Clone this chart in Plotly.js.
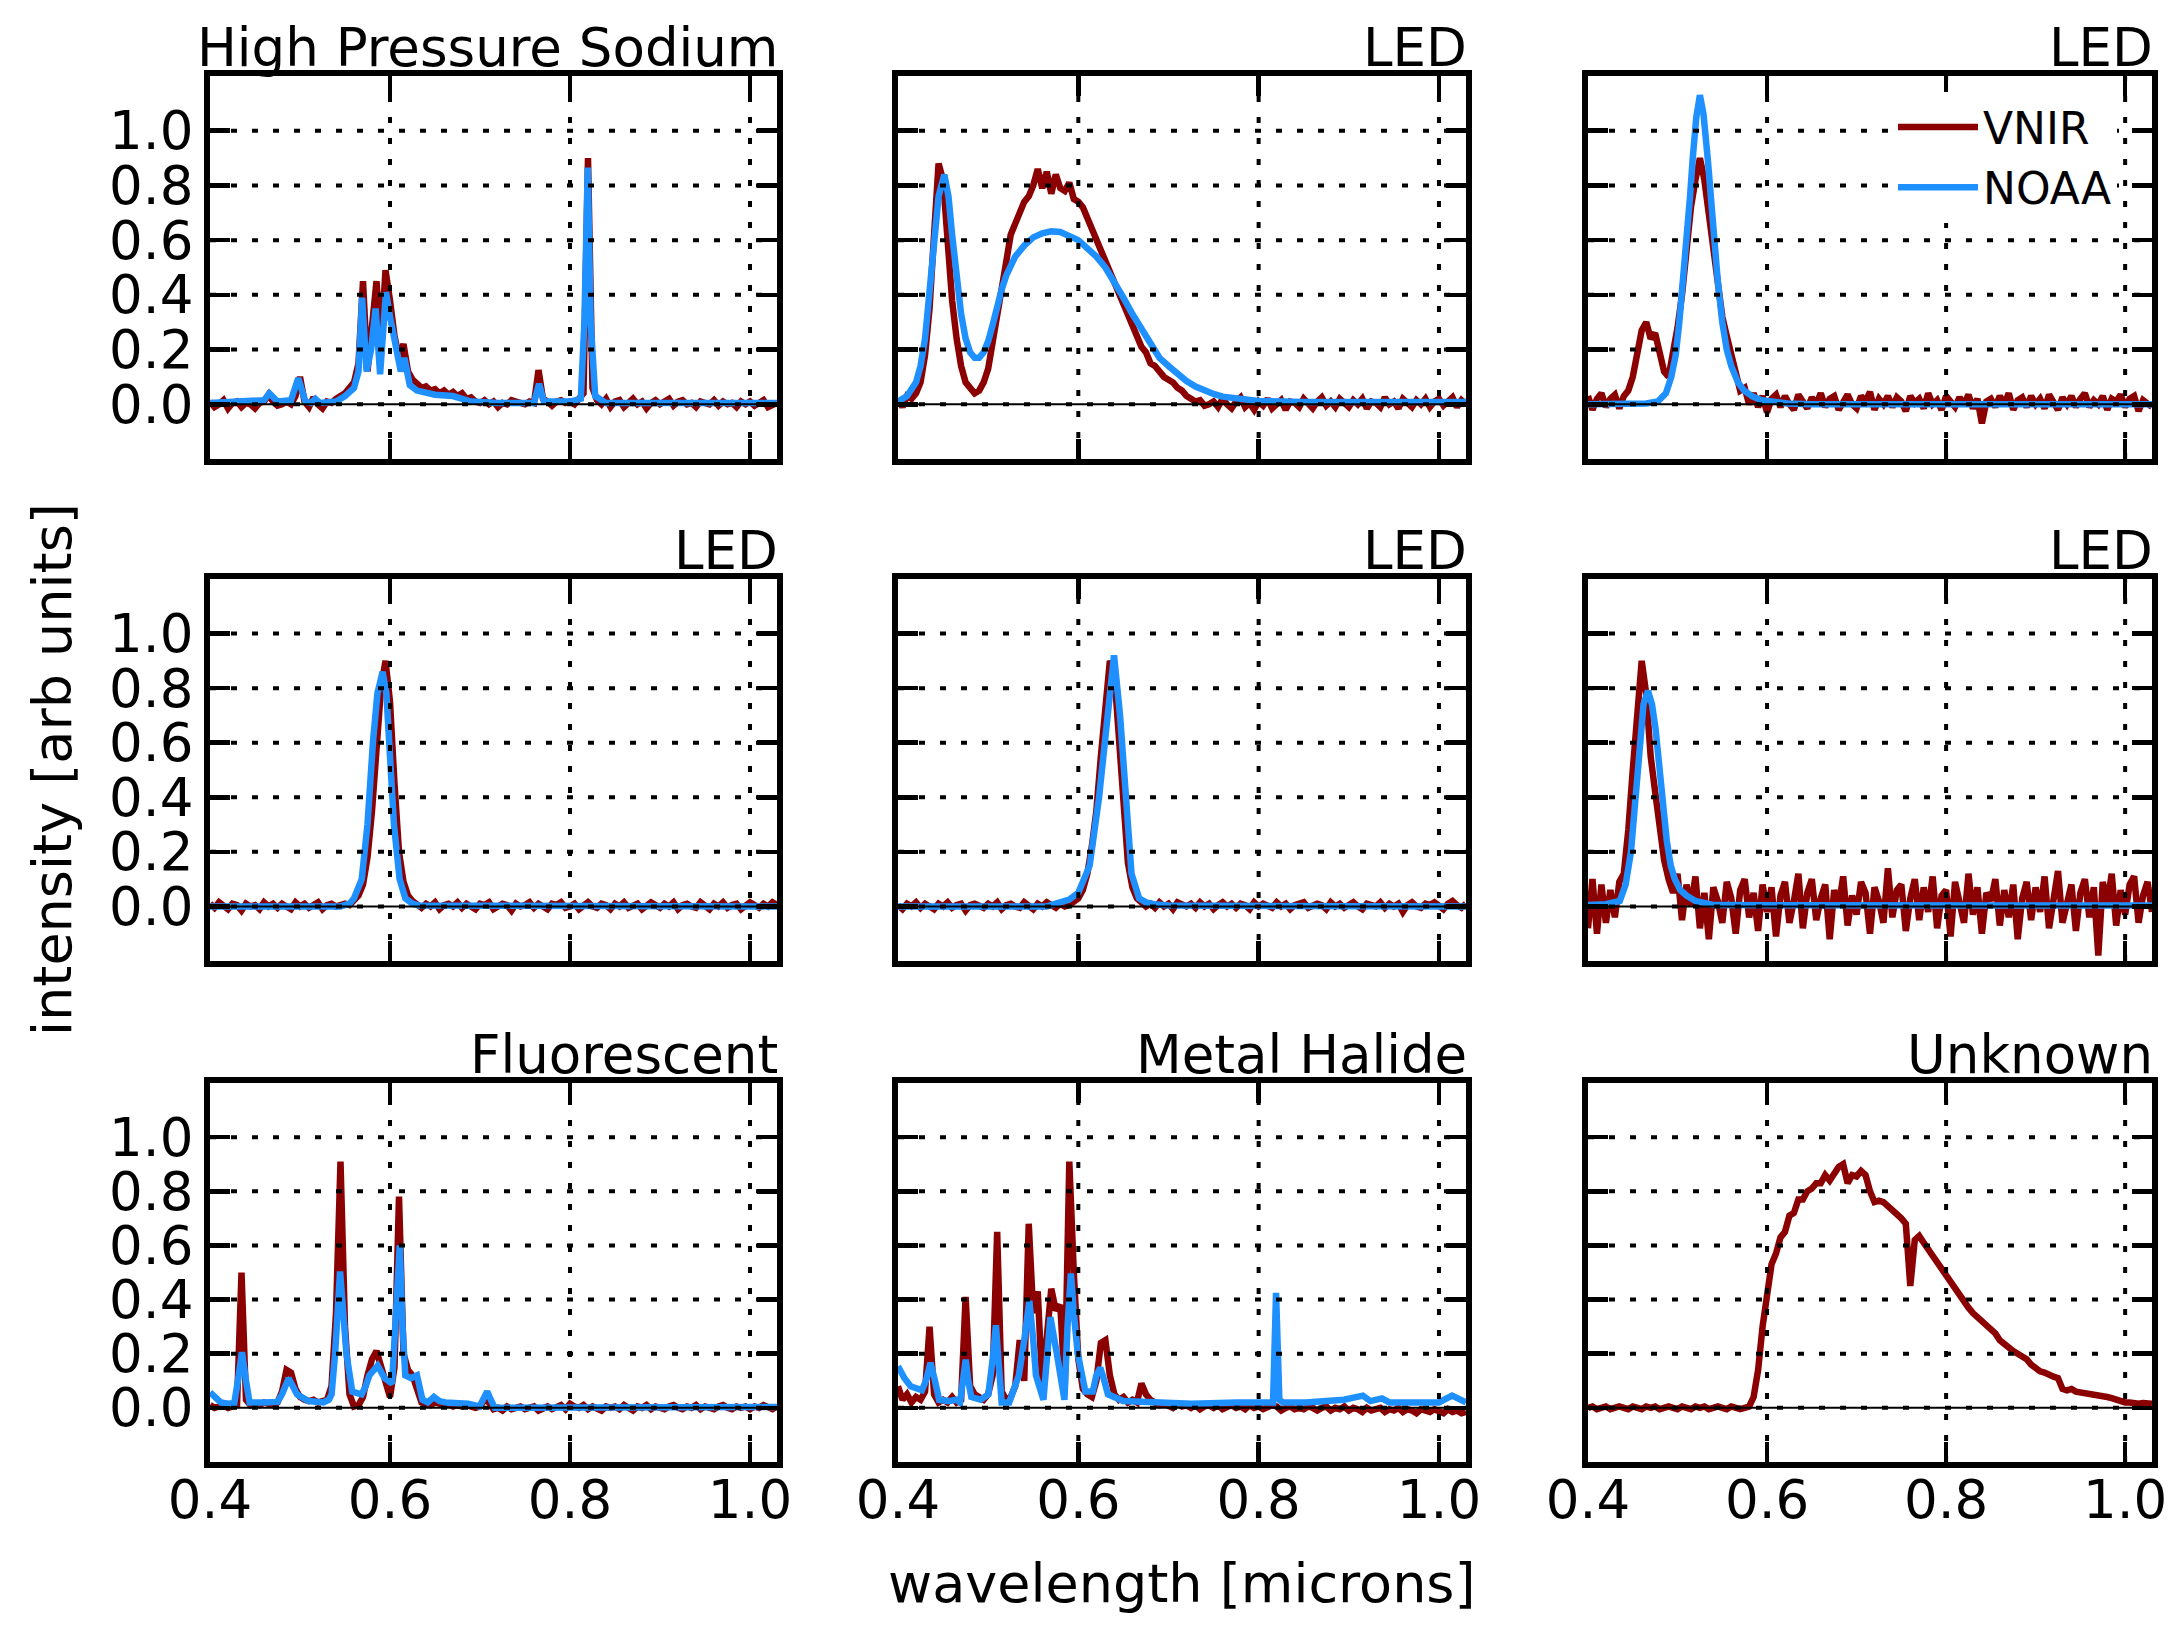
<!DOCTYPE html>
<html><head><meta charset="utf-8">
<script src="https://cdn.plot.ly/plotly-3.0.1.min.js"></script>
<style>html,body{margin:0;padding:0;background:#fff}#chart{width:2182px;height:1637px}</style>
</head><body><div id="chart"></div>
<script>
// ---------------- DATA ----------------
const xTicks = [0.4, 0.6, 0.8, 1.0];
const yTicks = [0.0, 0.2, 0.4, 0.6, 0.8, 1.0];
const xRange = [0.4, 1.03];
const yRange = [-0.2, 1.2];
const titles = ['High Pressure Sodium','LED','LED','LED','LED','LED','Fluorescent','Metal Halide','Unknown'];

// VNIR wavelength grid (microns)
const wl = [
0.400,0.405,0.410,0.415,0.420,0.425,0.430,0.435,0.440,0.445,
0.450,0.455,0.460,0.465,0.470,0.475,0.480,0.485,0.490,0.495,
0.500,0.505,0.510,0.515,0.520,0.525,0.530,0.535,0.540,0.545,
0.550,0.555,0.560,0.565,0.570,0.575,0.580,0.585,0.590,0.595,
0.600,0.605,0.610,0.615,0.620,0.625,0.630,0.635,0.640,0.645,
0.650,0.655,0.660,0.665,0.670,0.675,0.680,0.685,0.690,0.695,
0.700,0.705,0.710,0.715,0.720,0.725,0.730,0.735,0.740,0.745,
0.750,0.755,0.760,0.765,0.770,0.775,0.780,0.785,0.790,0.795,
0.800,0.805,0.810,0.815,0.820,0.825,0.830,0.835,0.840,0.845,
0.850,0.855,0.860,0.865,0.870,0.875,0.880,0.885,0.890,0.895,
0.900,0.905,0.910,0.915,0.920,0.925,0.930,0.935,0.940,0.945,
0.950,0.955,0.960,0.965,0.970,0.975,0.980,0.985,0.990,0.995,
1.000,1.005,1.010,1.015,1.020,1.025,1.030];

// High Pressure Sodium
const hpsVnir = [
0.01,-0.01,0.00,0.015,-0.015,0.005,0.01,-0.01,0.005,0.00,
-0.015,0.005,0.01,0.035,0.01,-0.005,0.0,0.01,0.0,0.03,
0.10,0.01,-0.01,0.025,0.0,-0.015,0.01,0.005,0.02,0.03,
0.04,0.06,0.08,0.15,0.45,0.12,0.30,0.45,0.22,0.49,
0.38,0.25,0.17,0.22,0.12,0.09,0.075,0.06,0.065,0.05,
0.055,0.04,0.05,0.035,0.045,0.03,0.04,0.02,0.025,0.01,
0.005,0.015,0.0,0.01,-0.01,0.005,0.0,0.015,0.01,0.005,
0.0,0.01,0.005,0.125,0.02,0.01,-0.005,0.01,0.015,0.005,
0.01,0.0,0.02,0.04,0.90,0.06,0.015,0.0,0.02,-0.01,
0.01,0.015,-0.01,0.005,0.02,0.0,0.01,-0.015,0.005,0.015,
0.0,0.01,0.02,-0.005,0.01,0.015,0.0,0.005,-0.01,0.01,
0.005,0.0,0.015,-0.005,0.01,0.0,0.005,-0.01,0.01,0.0,
0.01,-0.005,0.005,0.015,-0.01,0.0,0.005];
const hpsNoaaX = [0.400,0.440,0.460,0.466,0.475,0.490,0.498,0.506,0.512,0.517,0.522,0.540,0.550,0.560,0.565,0.569,0.574,0.579,0.584,0.589,0.5955,0.600,0.607,0.612,0.616,0.622,0.630,0.650,0.670,0.690,0.720,0.760,0.7656,0.771,0.800,0.812,0.816,0.8197,0.823,0.828,0.840,1.030];
const hpsNoaaY = [0.005,0.01,0.015,0.04,0.01,0.015,0.095,0.01,0.005,0.02,0.005,0.01,0.03,0.06,0.12,0.39,0.12,0.20,0.35,0.11,0.41,0.32,0.20,0.12,0.17,0.07,0.05,0.035,0.03,0.01,0.005,0.005,0.075,0.01,0.01,0.02,0.30,0.865,0.30,0.03,0.005,0.005];

// LED (broad white)
const ledAVnir = [
0.02,-0.01,0.03,0.02,0.04,0.08,0.18,0.35,0.62,0.88,
0.82,0.58,0.38,0.24,0.14,0.08,0.06,0.04,0.05,0.08,
0.13,0.22,0.32,0.42,0.52,0.62,0.66,0.70,0.74,0.76,
0.80,0.86,0.79,0.85,0.77,0.84,0.79,0.78,0.81,0.75,
0.74,0.72,0.68,0.64,0.60,0.56,0.52,0.48,0.44,0.40,
0.37,0.33,0.28,0.24,0.21,0.19,0.15,0.14,0.12,0.10,
0.09,0.08,0.06,0.05,0.03,0.02,0.01,0.015,-0.005,0.0,
0.01,-0.01,0.02,0.0,-0.015,0.01,0.025,-0.01,0.005,-0.02,
0.01,-0.005,0.02,-0.015,0.0,0.015,-0.02,0.01,0.005,-0.01,
0.02,0.0,-0.015,0.01,0.025,-0.005,0.01,-0.01,0.02,0.005,
-0.01,0.015,0.0,0.02,-0.015,0.01,0.005,-0.01,0.025,0.0,
0.01,-0.015,0.02,0.005,-0.01,0.015,0.0,0.02,-0.01,0.01,
0.02,-0.005,0.01,0.025,-0.01,0.015,0.0];
const ledANoaaX = [0.400,0.410,0.420,0.425,0.430,0.435,0.440,0.445,0.4514,0.456,0.460,0.465,0.470,0.475,0.480,0.485,0.490,0.495,0.500,0.505,0.510,0.515,0.520,0.530,0.540,0.550,0.560,0.570,0.580,0.590,0.600,0.610,0.620,0.630,0.640,0.650,0.660,0.670,0.680,0.690,0.700,0.710,0.720,0.730,0.740,0.750,0.760,0.780,0.800,0.850,1.030];
const ledANoaaY = [0.01,0.03,0.08,0.14,0.24,0.40,0.60,0.76,0.84,0.76,0.62,0.45,0.33,0.24,0.19,0.17,0.17,0.19,0.23,0.29,0.36,0.42,0.47,0.54,0.58,0.61,0.625,0.632,0.63,0.615,0.60,0.57,0.54,0.50,0.45,0.39,0.33,0.28,0.22,0.17,0.14,0.11,0.085,0.065,0.05,0.038,0.028,0.018,0.012,0.008,0.008];

// LED (green)
const ledBVnir = [
0.03,-0.02,0.02,0.04,-0.01,0.02,0.035,-0.015,0.03,0.05,
0.10,0.18,0.27,0.30,0.24,0.26,0.20,0.12,0.10,0.18,
0.28,0.40,0.58,0.72,0.82,0.90,0.82,0.70,0.58,0.42,
0.32,0.25,0.18,0.11,0.05,0.06,0.0,0.04,-0.01,0.03,
-0.03,0.02,0.035,-0.01,0.03,0.0,-0.02,0.035,0.01,-0.015,
0.025,0.0,0.04,-0.01,0.02,0.03,-0.02,0.01,0.035,0.0,
-0.015,0.03,0.01,0.045,-0.02,0.02,0.0,0.03,-0.01,0.025,
0.01,-0.025,0.03,0.005,0.02,-0.015,0.04,0.0,0.015,-0.02,
0.03,0.01,-0.01,0.025,0.0,0.035,-0.015,0.02,-0.07,0.01,
0.02,-0.01,0.03,0.0,0.04,-0.02,0.015,0.025,-0.01,0.03,
0.0,0.02,-0.015,0.035,0.01,-0.02,0.025,0.0,0.03,-0.01,
0.02,0.04,-0.01,0.015,0.0,0.03,-0.02,0.02,0.01,0.035,
-0.01,0.02,0.03,-0.025,0.015,0.0,-0.01];
const ledBNoaaX = [0.400,0.450,0.465,0.478,0.487,0.493,0.498,0.502,0.506,0.510,0.514,0.517,0.521,0.525,0.529,0.5337,0.537,0.541,0.545,0.550,0.555,0.560,0.5675,0.5745,0.584,0.594,0.610,0.623,0.650,1.030];
const ledBNoaaY = [0.0,0.0,0.003,0.01,0.04,0.10,0.18,0.30,0.44,0.60,0.76,0.90,1.05,1.13,1.06,0.90,0.75,0.60,0.45,0.30,0.20,0.14,0.08,0.05,0.028,0.015,0.006,0.003,0.0,0.0];

// LED (amber)
const ledCVnir = [
0.01,-0.005,0.015,0.0,-0.01,0.01,0.005,-0.015,0.01,0.0,
0.005,-0.01,0.015,0.0,0.01,-0.005,0.01,0.0,-0.01,0.015,
0.0,0.01,-0.005,0.005,0.015,-0.01,0.005,0.01,0.0,0.005,
0.01,0.005,0.02,0.04,0.08,0.18,0.35,0.58,0.80,0.90,
0.75,0.45,0.20,0.09,0.04,0.02,0.01,-0.005,0.01,0.0,
0.015,-0.01,0.005,0.01,0.0,0.015,-0.005,0.01,0.0,-0.01,
0.01,0.005,0.015,-0.01,0.0,0.01,0.005,-0.015,0.01,0.0,
0.005,0.015,-0.005,0.01,0.0,-0.01,0.01,0.005,0.015,-0.005,
0.0,0.01,-0.01,0.005,0.015,0.0,-0.005,0.01,0.005,-0.01,
0.01,0.0,0.015,-0.005,0.005,0.01,-0.01,0.0,0.015,0.005,
-0.005,0.01,0.0,0.015,-0.01,0.005,0.01,0.0,-0.005,0.015,
0.005,-0.01,0.01,0.0,0.015,-0.005,0.005,0.01,-0.01,0.0,
0.015,0.005,-0.005,0.01,0.0,0.015,0.005];
const ledCNoaaX = [0.400,0.545,0.555,0.560,0.5686,0.575,0.581,0.586,0.5918,0.596,0.600,0.6044,0.6107,0.617,0.625,0.632,1.030];
const ledCNoaaY = [0.0,0.0,0.01,0.03,0.10,0.30,0.60,0.78,0.86,0.78,0.55,0.30,0.10,0.03,0.01,0.003,0.0];

// LED (red)
const ledDVnir = [
0.005,-0.01,0.01,0.0,0.015,-0.005,0.01,0.0,-0.01,0.01,
0.0,0.015,-0.005,0.005,0.01,-0.015,0.005,0.01,0.0,-0.005,
0.01,0.0,0.015,-0.01,0.005,0.01,0.0,-0.005,0.015,0.005,
-0.01,0.01,0.0,0.015,0.005,-0.005,0.01,0.0,0.005,0.015,
0.03,0.06,0.12,0.22,0.35,0.55,0.75,0.90,0.85,0.62,
0.38,0.16,0.07,0.03,0.015,0.0,0.01,-0.005,0.015,0.0,
0.01,-0.01,0.015,0.005,0.0,0.01,-0.005,0.015,0.0,0.01,
-0.01,0.005,0.015,0.0,0.01,-0.005,0.01,0.005,-0.01,0.015,
0.0,0.01,0.005,-0.005,0.015,0.0,0.01,-0.01,0.005,0.01,
0.015,-0.005,0.0,0.01,0.005,-0.01,0.015,0.0,0.01,-0.005,
0.005,0.015,0.0,-0.01,0.01,0.005,0.0,0.015,-0.005,0.01,
0.0,0.01,-0.02,0.005,0.015,0.0,-0.005,0.01,0.005,0.015,
0.0,-0.01,0.01,0.02,0.005,-0.005,0.01];
const ledDNoaaX = [0.400,0.565,0.575,0.590,0.600,0.6126,0.623,0.6337,0.6396,0.6463,0.6526,0.659,0.6674,0.675,0.684,0.700,1.030];
const ledDNoaaY = [0.0,0.0,0.01,0.025,0.05,0.15,0.40,0.75,0.92,0.70,0.40,0.12,0.03,0.015,0.008,0.003,0.0];

// LED (blue)
const ledEVnir = [
-0.08,0.10,-0.10,0.08,-0.06,0.06,-0.04,0.09,0.12,0.28,
0.50,0.72,0.90,0.78,0.55,0.42,0.30,0.17,0.10,0.05,
0.12,-0.05,0.08,0.0,0.11,-0.08,0.05,-0.12,0.07,0.02,
-0.06,0.09,0.03,-0.10,0.06,0.10,-0.04,0.05,-0.09,0.08,
-0.02,0.07,-0.11,0.04,0.09,-0.06,0.02,0.12,-0.08,0.05,
0.10,-0.05,0.03,0.08,-0.12,0.06,0.0,0.11,-0.07,0.04,
-0.03,0.09,0.05,-0.10,0.07,0.02,-0.06,0.14,-0.04,0.06,
0.08,-0.09,0.03,0.10,-0.05,0.07,-0.02,0.11,-0.08,0.04,
0.06,-0.11,0.09,0.01,-0.06,0.12,-0.03,0.07,-0.10,0.05,
0.02,0.10,-0.07,0.06,-0.04,0.08,-0.12,0.03,0.09,-0.05,
0.07,-0.02,0.11,-0.08,0.04,0.13,-0.06,0.02,0.08,-0.09,
0.05,0.10,-0.04,0.07,-0.18,0.09,0.01,0.12,-0.07,0.06,
-0.03,0.08,0.11,-0.06,0.04,0.09,-0.02];
const ledENoaaX = [0.400,0.420,0.4355,0.442,0.448,0.4565,0.462,0.467,0.4715,0.4755,0.480,0.484,0.488,0.4924,0.497,0.503,0.510,0.520,0.530,0.541,1.030];
const ledENoaaY = [0.005,0.008,0.02,0.08,0.20,0.55,0.74,0.79,0.74,0.65,0.50,0.35,0.24,0.15,0.10,0.06,0.04,0.02,0.01,0.005,0.003];

// Fluorescent
const fluoVnir = [
0.01,0.0,0.005,0.01,0.0,0.005,0.01,0.50,0.03,0.01,
0.015,0.01,0.02,0.015,0.01,0.02,0.06,0.14,0.13,0.07,
0.04,0.03,0.025,0.03,0.02,0.025,0.03,0.08,0.35,0.91,
0.30,0.05,0.005,0.01,0.04,0.12,0.18,0.21,0.15,0.08,
0.04,0.15,0.78,0.20,0.14,0.12,0.06,0.02,0.015,0.01,
0.02,0.015,0.01,0.015,0.005,0.01,0.005,0.01,0.005,0.0,
0.005,0.03,0.02,-0.005,0.0,-0.01,0.005,-0.005,0.0,0.005,
-0.005,0.0,0.005,-0.01,0.0,0.005,-0.005,0.0,0.01,-0.005,
0.015,0.005,0.0,0.01,-0.005,0.005,0.0,-0.01,0.005,0.0,
0.005,-0.005,0.01,0.0,-0.01,0.005,0.0,0.01,-0.005,0.005,
0.0,-0.005,0.005,0.01,0.0,-0.005,0.005,0.0,0.01,-0.005,
0.005,0.0,-0.005,0.005,0.01,0.0,-0.005,0.005,0.0,0.005,
-0.005,0.005,0.0,0.01,0.0,-0.005,0.005];
const fluoNoaaX = [0.400,0.406,0.412,0.420,0.427,0.431,0.4355,0.440,0.444,0.460,0.475,0.480,0.4874,0.4967,0.5094,0.526,0.532,0.5351,0.539,0.5445,0.548,0.5516,0.558,0.5685,0.573,0.577,0.5863,0.5939,0.6023,0.606,0.6108,0.614,0.617,0.6234,0.630,0.636,0.642,0.6488,0.655,0.6615,0.6868,0.6995,0.704,0.708,0.712,0.7164,1.030];
const fluoNoaaY = [0.057,0.04,0.02,0.015,0.018,0.10,0.206,0.10,0.02,0.02,0.022,0.05,0.109,0.05,0.025,0.02,0.03,0.05,0.20,0.504,0.35,0.20,0.06,0.05,0.08,0.12,0.156,0.11,0.09,0.30,0.60,0.30,0.12,0.11,0.12,0.03,0.02,0.04,0.025,0.02,0.015,0.005,0.03,0.06,0.03,0.0,0.003];

// Metal Halide
const mhVnir = [
0.08,0.03,0.05,0.02,0.04,0.03,0.06,0.30,0.05,0.02,
0.03,0.02,0.04,0.02,0.03,0.41,0.08,0.05,0.04,0.03,
0.05,0.12,0.65,0.06,0.03,0.04,0.08,0.25,0.10,0.68,
0.35,0.43,0.08,0.25,0.44,0.36,0.38,0.08,0.91,0.50,
0.18,0.07,0.05,0.04,0.10,0.24,0.25,0.12,0.05,0.03,
0.04,0.02,0.03,0.02,0.09,0.05,0.03,0.02,0.01,0.015,
0.01,0.0,0.015,0.005,0.01,0.0,0.01,-0.005,0.005,0.01,
0.0,0.01,-0.005,0.005,0.01,0.0,0.005,-0.005,0.01,0.0,
0.005,-0.005,0.0,0.01,0.005,-0.01,0.0,0.005,-0.005,0.0,
-0.005,0.005,0.0,-0.01,0.0,0.005,-0.01,0.0,-0.005,0.005,
-0.01,0.0,-0.005,-0.015,0.0,-0.01,-0.005,0.0,-0.015,-0.005,
-0.01,0.0,-0.015,-0.005,-0.01,-0.02,-0.005,-0.01,-0.015,-0.005,
-0.01,-0.02,-0.005,-0.015,-0.01,-0.02,-0.015];
const mhNoaaX = [0.400,0.407,0.414,0.4266,0.431,0.436,0.441,0.4456,0.456,0.4646,0.4688,0.472,0.4751,0.478,0.4813,0.4918,0.5002,0.505,0.5086,0.512,0.515,0.5234,0.530,0.534,0.540,0.5457,0.550,0.553,0.5613,0.565,0.569,0.5762,0.5846,0.588,0.5918,0.595,0.5994,0.6078,0.616,0.620,0.6244,0.628,0.6329,0.6497,0.675,0.7256,0.7763,0.810,0.816,0.8193,0.823,0.827,0.8523,0.8945,0.9156,0.924,0.9367,0.945,1.000,1.0145,1.025,1.030];
const mhNoaaY = [0.154,0.11,0.08,0.065,0.10,0.166,0.10,0.03,0.025,0.03,0.02,0.10,0.178,0.10,0.04,0.03,0.05,0.18,0.305,0.15,0.02,0.02,0.08,0.12,0.25,0.395,0.25,0.12,0.03,0.20,0.335,0.20,0.03,0.30,0.496,0.35,0.20,0.06,0.06,0.12,0.148,0.11,0.05,0.025,0.02,0.015,0.02,0.015,0.02,0.425,0.03,0.02,0.02,0.03,0.045,0.025,0.035,0.02,0.02,0.045,0.028,0.02];

// Unknown (VNIR only)
const unkVnir = [
0.0,0.005,-0.005,0.0,0.005,-0.005,0.0,0.005,0.0,-0.005,
0.005,0.0,-0.005,0.005,0.0,0.005,-0.005,0.0,0.005,0.0,
-0.005,0.005,0.0,-0.005,0.005,0.0,0.005,-0.005,0.0,0.005,
0.0,-0.005,0.005,0.0,-0.005,0.0,0.005,0.04,0.14,0.30,
0.44,0.53,0.57,0.63,0.65,0.71,0.72,0.77,0.77,0.80,
0.81,0.83,0.83,0.86,0.84,0.87,0.89,0.90,0.83,0.86,
0.855,0.875,0.86,0.80,0.76,0.765,0.76,0.745,0.73,0.72,
0.70,0.68,0.45,0.62,0.635,0.61,0.585,0.565,0.54,0.515,
0.49,0.465,0.44,0.41,0.39,0.37,0.35,0.335,0.32,0.30,
0.285,0.275,0.25,0.235,0.22,0.21,0.20,0.19,0.18,0.16,
0.145,0.135,0.13,0.12,0.115,0.11,0.07,0.065,0.07,0.06,
0.058,0.055,0.05,0.048,0.045,0.042,0.04,0.036,0.03,0.025,
0.02,0.02,0.017,0.015,0.018,0.015,0.015];

// ---------------- LAYOUT ----------------
const W = 2182, H = 1637;
const colL = [210, 898, 1588], colR = [777, 1466, 2152];
const rowT = [76, 579, 1083], rowB = [459, 961, 1462];
const vnirColor = '#8b0000', noaaColor = '#1e90ff';
const FONT = 'DejaVu Sans';

const panels = [
  {vnir: hpsVnir, nx: hpsNoaaX, ny: hpsNoaaY},
  {vnir: ledAVnir, nx: ledANoaaX, ny: ledANoaaY},
  {vnir: ledBVnir, nx: ledBNoaaX, ny: ledBNoaaY},
  {vnir: ledCVnir, nx: ledCNoaaX, ny: ledCNoaaY},
  {vnir: ledDVnir, nx: ledDNoaaX, ny: ledDNoaaY},
  {vnir: ledEVnir, nx: ledENoaaX, ny: ledENoaaY},
  {vnir: fluoVnir, nx: fluoNoaaX, ny: fluoNoaaY},
  {vnir: mhVnir, nx: mhNoaaX, ny: mhNoaaY},
  {vnir: unkVnir, nx: null, ny: null}
];

const axBase = {
  showline: true, linecolor: 'black', linewidth: 6, mirror: 'ticks',
  ticks: 'inside', ticklen: 20, tickwidth: 4.5, tickcolor: 'black',
  showgrid: false, zeroline: false, layer: 'above traces', fixedrange: true,
  tickfont: {family: FONT, size: 53, color: 'black'}, tickformat: '.1f'
};

const data = [];
const layout = {
  width: W, height: H, autosize: false,
  margin: {l: 0, r: 0, t: 0, b: 0},
  paper_bgcolor: 'white', plot_bgcolor: 'white',
  font: {family: FONT, color: 'black'},
  showlegend: true,
  legend: {x: 1893 / W, xanchor: 'left', y: 1 - 92 / H, yanchor: 'top',
           bgcolor: 'white', borderwidth: 0, tracegroupgap: 13, itemwidth: 80,
           traceorder: 'normal',
           font: {family: FONT, size: 44, color: 'black'}},
  shapes: [], annotations: []
};

const gridLine = {color: 'black', width: 4, dash: '6px,15px'};

panels.forEach((p, i) => {
  const k = i + 1, r = Math.floor(i / 3), c = i % 3;
  const xn = k === 1 ? 'x' : 'x' + k, yn = k === 1 ? 'y' : 'y' + k;
  layout[k === 1 ? 'xaxis' : 'xaxis' + k] = Object.assign({}, axBase, {
    domain: [colL[c] / W, colR[c] / W], anchor: yn, range: xRange,
    tickmode: 'array', tickvals: xTicks, showticklabels: r === 2, ticklabelstandoff: -14
  });
  layout[k === 1 ? 'yaxis' : 'yaxis' + k] = Object.assign({}, axBase, {
    domain: [1 - rowB[r] / H, 1 - rowT[r] / H], anchor: xn, range: yRange,
    tickmode: 'array', tickvals: yTicks, showticklabels: c === 0, ticklabelstandoff: 0
  });
  data.push({type: 'scatter', mode: 'lines', x: wl, y: p.vnir, xaxis: xn, yaxis: yn,
    name: 'VNIR', legendgroup: 'vnir', line: {color: vnirColor, width: 6.5},
    showlegend: k === 3, hoverinfo: 'skip'});
  if (p.nx) {
    data.push({type: 'scatter', mode: 'lines', x: p.nx, y: p.ny, xaxis: xn, yaxis: yn,
      name: 'NOAA', legendgroup: 'noaa', line: {color: noaaColor, width: 6.5},
      showlegend: k === 3, hoverinfo: 'skip'});
  }
  yTicks.forEach(v => layout.shapes.push({type: 'line', layer: 'above',
    xref: xn + ' domain', yref: yn, x0: 0, x1: 1, y0: v, y1: v, line: gridLine}));
  xTicks.slice(1).forEach(v => layout.shapes.push({type: 'line', layer: 'above',
    xref: xn, yref: yn + ' domain', x0: v, x1: v, y0: 0, y1: 1, line: gridLine}));
  layout.shapes.push({type: 'line', layer: 'above', xref: xn + ' domain', yref: yn,
    x0: 0, x1: 1, y0: 0, y1: 0, line: {color: 'black', width: 2}});
  layout.annotations.push({text: titles[i], xref: 'paper', yref: 'paper',
    x: (colR[c] + 3) / W, y: 1 - (rowT[r] - 3) / H, xanchor: 'right', yanchor: 'bottom',
    yshift: -7, showarrow: false, font: {family: FONT, size: 53, color: 'black'}});
});

layout.annotations.push({text: 'wavelength [microns]', xref: 'paper', yref: 'paper',
  x: 1182 / W, y: 1 - 1583 / H, xanchor: 'center', yanchor: 'middle', showarrow: false,
  font: {family: FONT, size: 54, color: 'black'}});
layout.annotations.push({text: 'intensity [arb units]', xref: 'paper', yref: 'paper',
  x: 53 / W, y: 1 - 770 / H, xanchor: 'center', yanchor: 'middle', textangle: -90,
  showarrow: false, font: {family: FONT, size: 54, color: 'black'}});

Plotly.newPlot('chart', data, layout, {displayModeBar: false, staticPlot: true});
</script></body></html>
